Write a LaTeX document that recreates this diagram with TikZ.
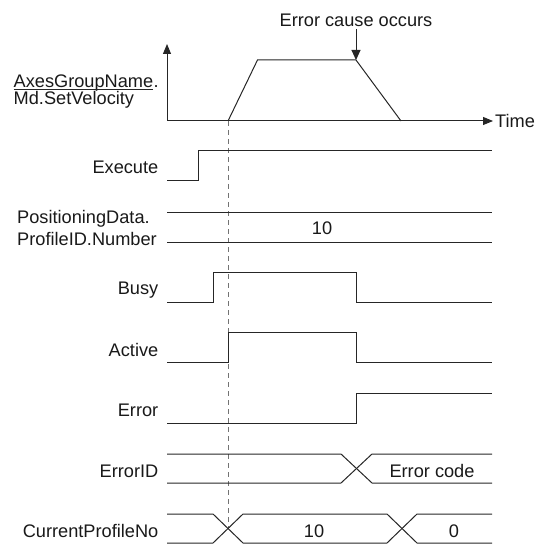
\documentclass[tikz,border=0pt]{standalone}
\usepackage{fontspec}
\setmainfont{Liberation Sans}
\usetikzlibrary{arrows.meta}
\begin{document}
\begin{tikzpicture}[x=1pt,y=-1pt,
  wave/.style={line width=1pt, draw=black!85, line join=miter},
  lbl/.style={inner sep=0pt, font=\fontsize{18.2}{21}\selectfont, text=black!90},
  axtip/.style={-{Triangle[length=10pt,width=8pt]}},
  dashline/.style={draw=black!55, line width=0.8pt, dash pattern=on 5pt off 4pt}]
\useasboundingbox (0,0) rectangle (538,545);

% labels
\node[lbl, anchor=base west] (agn) at (13.5,87.5) {AxesGroupName};
\node[lbl, anchor=base west] (agndot) at (agn.base east) {.};
\draw[line width=0.8pt, black!85] ([yshift=-1.6pt]agn.base west) -- ([yshift=-1.6pt]agn.base east);
\node[lbl, anchor=base west] (msv) at (13.5,105) {Md.SetVelocity};
\node[lbl, anchor=base] (ecause) at (356,27) {Error cause occurs};
\node[lbl, anchor=base east] (exe) at (158.5,173.5) {Execute};
\node[lbl, anchor=base west] (posd) at (17,223) {PositioningData.};
\node[lbl, anchor=base west] (pid) at (17,245) {ProfileID.Number};
\node[lbl, anchor=base] (pidval) at (322,234) {10};
\node[lbl, anchor=base east] (busy) at (158.5,294) {Busy};
\node[lbl, anchor=base east] (active) at (158.5,356) {Active};
\node[lbl, anchor=base east] (err) at (158.5,416) {Error};
\node[lbl, anchor=base east] (errid) at (158.5,477) {ErrorID};
\node[lbl, anchor=base] (errcode) at (432,477) {Error code};
\node[lbl, anchor=base east] (cpn) at (158.5,537) {CurrentProfileNo};
\node[lbl, anchor=base] (cpn10) at (314,537) {10};
\node[lbl, anchor=base] (cpn0) at (454,537) {0};

% axes
\coordinate (origin) at (167,121);
\coordinate (ytip) at (167,44);
\coordinate (xtip) at (493,121);
\draw[wave, axtip] (origin) -- (ytip);
\draw[wave, axtip] (origin) -- (xtip);
\node[lbl, anchor=base west] (time) at (495,127.5) {Time};

% velocity profile
\coordinate (vstart) at (228,121);
\coordinate (vtop1) at (257.5,60);
\coordinate (vtop2) at (356,60);
\coordinate (vend) at (401,121);
\draw[wave] (vstart) -- (vtop1) -- (vtop2) -- (vend);
\draw[wave, -{Triangle[length=10pt,width=9pt]}] ([yshift=-2pt]ecause.south) -- (vtop2);

% dashed marker
\coordinate (dend) at (228,528.5);
\draw[dashline] (vstart) -- (dend);

% Execute
\draw[wave] (167,181) -- (198,181) -- (198,151) -- (492,151);
% PositioningData.ProfileID.Number
\draw[wave] (167,212) -- (492,212);
\draw[wave] (167,242) -- (492,242);
% Busy
\draw[wave] (167,302) -- (213,302) -- (213,272) -- (356,272) -- (356,302) -- (492,302);
% Active
\draw[wave] (167,362) -- (228,362) -- (228,332) -- (356,332) -- (356,362) -- (492,362);
% Error
\draw[wave] (167,423) -- (356,423) -- (356,393) -- (492,393);
% ErrorID
\draw[wave] (167,454) -- (341,454) -- (372,483) -- (492,483);
\draw[wave] (167,483) -- (341,483) -- (372,454) -- (492,454);
% CurrentProfileNo
\draw[wave] (167,514) -- (213,514) -- (243,543) -- (387,543) -- (417,514) -- (492,514);
\draw[wave] (167,543) -- (213,543) -- (243,514) -- (387,514) -- (417,543) -- (492,543);
\end{tikzpicture}
\end{document}
